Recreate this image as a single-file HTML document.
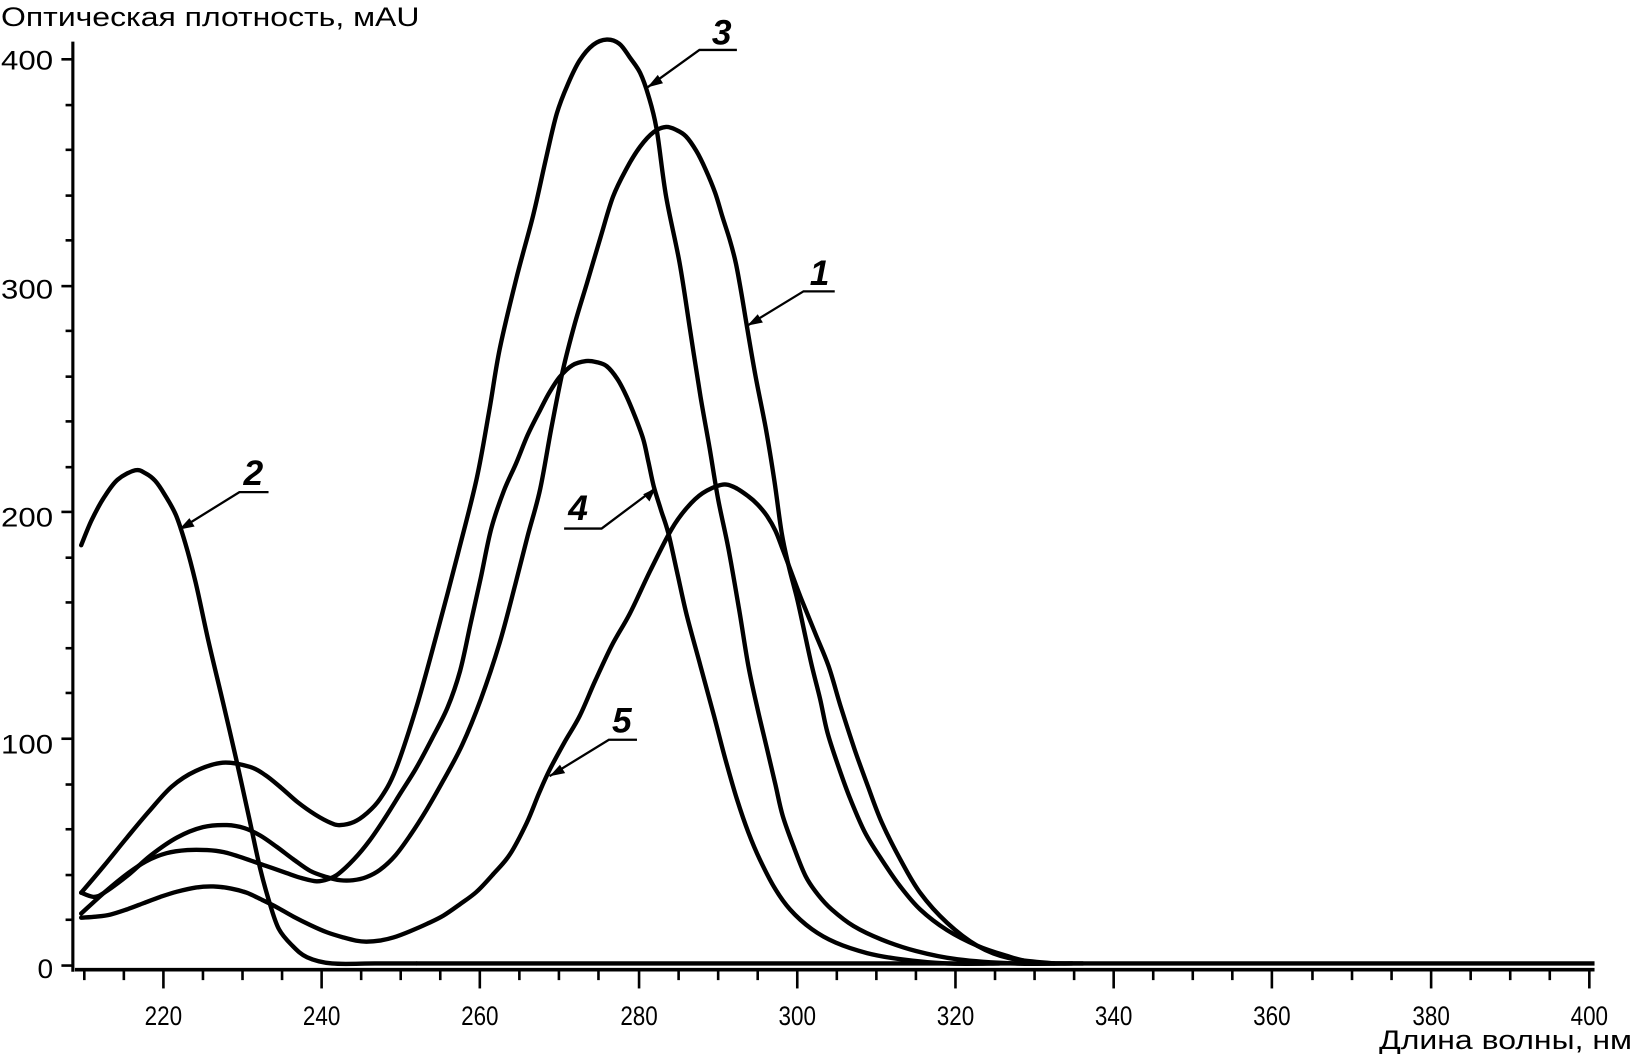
<!DOCTYPE html>
<html><head><meta charset="utf-8"><style>
html,body{margin:0;padding:0;background:#fff;}
svg{display:block;}
text{font-family:"Liberation Sans",Arial,sans-serif;fill:#000;}
</style></head><body>
<svg id="s" width="1632" height="1054" viewBox="0 0 1568 1013" preserveAspectRatio="none" xmlns="http://www.w3.org/2000/svg">
<rect width="1568" height="1013" fill="#fff"/>
<text x="1" y="25" font-size="26" textLength="402" lengthAdjust="spacingAndGlyphs">Оптическая плотность, мАU</text>
<!-- y axis -->
<line x1="70" y1="40" x2="70" y2="934" stroke="#000" stroke-width="3"/>
<g stroke="#000" stroke-width="2.5">
<line x1="59" y1="57" x2="70" y2="57"/><line x1="59" y1="275" x2="70" y2="275"/><line x1="59" y1="492" x2="70" y2="492"/><line x1="59" y1="710" x2="70" y2="710"/><line x1="59" y1="928" x2="70" y2="928"/>
<line x1="63" y1="101" x2="70" y2="101"/><line x1="63" y1="144" x2="70" y2="144"/><line x1="63" y1="188" x2="70" y2="188"/><line x1="63" y1="231" x2="70" y2="231"/>
<line x1="63" y1="318" x2="70" y2="318"/><line x1="63" y1="362" x2="70" y2="362"/><line x1="63" y1="405" x2="70" y2="405"/><line x1="63" y1="449" x2="70" y2="449"/>
<line x1="63" y1="536" x2="70" y2="536"/><line x1="63" y1="579" x2="70" y2="579"/><line x1="63" y1="623" x2="70" y2="623"/><line x1="63" y1="666" x2="70" y2="666"/>
<line x1="63" y1="754" x2="70" y2="754"/><line x1="63" y1="797" x2="70" y2="797"/><line x1="63" y1="841" x2="70" y2="841"/><line x1="63" y1="884" x2="70" y2="884"/>
</g>
<g font-size="26">
<text x="1" y="67" textLength="50" lengthAdjust="spacingAndGlyphs">400</text>
<text x="1" y="287" textLength="50" lengthAdjust="spacingAndGlyphs">300</text>
<text x="1" y="506" textLength="50" lengthAdjust="spacingAndGlyphs">200</text>
<text x="1" y="724" textLength="50" lengthAdjust="spacingAndGlyphs">100</text>
<text x="36" y="940" textLength="15" lengthAdjust="spacingAndGlyphs">0</text>
</g>
<!-- x axis -->
<line x1="72" y1="932" x2="1532" y2="932" stroke="#000" stroke-width="3.5"/>
<g stroke="#000" stroke-width="2.5">
<line x1="81" y1="932" x2="81" y2="942"/><line x1="119" y1="932" x2="119" y2="942"/><line x1="157" y1="932" x2="157" y2="950"/><line x1="195" y1="932" x2="195" y2="942"/>
<line x1="233" y1="932" x2="233" y2="942"/><line x1="271" y1="932" x2="271" y2="942"/><line x1="309" y1="932" x2="309" y2="950"/><line x1="347" y1="932" x2="347" y2="942"/>
<line x1="385" y1="932" x2="385" y2="942"/><line x1="423" y1="932" x2="423" y2="942"/><line x1="461" y1="932" x2="461" y2="950"/><line x1="499" y1="932" x2="499" y2="942"/>
<line x1="537" y1="932" x2="537" y2="942"/><line x1="575" y1="932" x2="575" y2="942"/><line x1="614" y1="932" x2="614" y2="950"/><line x1="652" y1="932" x2="652" y2="942"/>
<line x1="690" y1="932" x2="690" y2="942"/><line x1="728" y1="932" x2="728" y2="942"/><line x1="766" y1="932" x2="766" y2="950"/><line x1="804" y1="932" x2="804" y2="942"/>
<line x1="842" y1="932" x2="842" y2="942"/><line x1="880" y1="932" x2="880" y2="942"/><line x1="918" y1="932" x2="918" y2="950"/><line x1="956" y1="932" x2="956" y2="942"/>
<line x1="994" y1="932" x2="994" y2="942"/><line x1="1032" y1="932" x2="1032" y2="942"/><line x1="1070" y1="932" x2="1070" y2="950"/><line x1="1108" y1="932" x2="1108" y2="942"/>
<line x1="1146" y1="932" x2="1146" y2="942"/><line x1="1184" y1="932" x2="1184" y2="942"/><line x1="1222" y1="932" x2="1222" y2="950"/><line x1="1261" y1="932" x2="1261" y2="942"/>
<line x1="1299" y1="932" x2="1299" y2="942"/><line x1="1337" y1="932" x2="1337" y2="942"/><line x1="1375" y1="932" x2="1375" y2="950"/><line x1="1413" y1="932" x2="1413" y2="942"/>
<line x1="1451" y1="932" x2="1451" y2="942"/><line x1="1489" y1="932" x2="1489" y2="942"/><line x1="1527" y1="932" x2="1527" y2="950"/>
</g>
<g font-size="26">
<text x="139" y="985" textLength="36" lengthAdjust="spacingAndGlyphs">220</text>
<text x="291" y="985" textLength="36" lengthAdjust="spacingAndGlyphs">240</text>
<text x="443" y="985" textLength="36" lengthAdjust="spacingAndGlyphs">260</text>
<text x="596" y="985" textLength="36" lengthAdjust="spacingAndGlyphs">280</text>
<text x="748" y="985" textLength="36" lengthAdjust="spacingAndGlyphs">300</text>
<text x="900" y="985" textLength="36" lengthAdjust="spacingAndGlyphs">320</text>
<text x="1052" y="985" textLength="36" lengthAdjust="spacingAndGlyphs">340</text>
<text x="1204" y="985" textLength="36" lengthAdjust="spacingAndGlyphs">360</text>
<text x="1357" y="985" textLength="36" lengthAdjust="spacingAndGlyphs">380</text>
<text x="1509" y="985" textLength="36" lengthAdjust="spacingAndGlyphs">400</text>
</g>
<text x="1325" y="1008" font-size="26" textLength="243" lengthAdjust="spacingAndGlyphs">Длина волны, нм</text>
<line x1="400" y1="926" x2="1532" y2="926" stroke="#000" stroke-width="4.2"/>
<!-- curves -->
<g id="curves" fill="none" stroke="#000" stroke-width="4.2" stroke-linejoin="round" stroke-linecap="round">
<!-- 2 -->
<polyline points="78,524 88,500 100,478 113,461 130,452 140,455 149,462 158,475 169,495 178,522 188,560 200,615 214,674 227,730 240,789 250,835 260,871 268,893 280,908 295,920 319,926 360,926 400,926"/>
<!-- 3 -->
<polyline points="78,858 100,832 122,805 143,780 165,756 188,741 214,733 240,737 255,745 270,757 286,771 303,783 318,791 327,793 340,790 352,782 365,768 380,740 400,680 420,608 440,532 458,460 470,395 480,336 496,268 512,208 524,155 535,109 546,80 557,58 570,43 583,38 595,42 605,55 615,70 623,92 631,125 640,189 653,253 663,317 673,381 682,432 690,480 700,528 710,585 719,640 728,682 737,720 745,754 752,784 763,815 774,842 786,860 799,874 820,890 847,903 880,914 920,922 975,926 1030,926"/>
<!-- 1 -->
<polyline points="78,858 90,862 100,858 122,842 145,822 170,805 195,795 218,793 235,796 250,803 266,814 282,826 298,837 314,843 327,846 339,846 352,843 365,836 380,822 394,803 410,778 426,750 444,716 462,672 480,618 495,562 507,515 519,470 530,410 541,355 552,312 564,272 577,228 589,189 602,162 615,141 628,127 640,122 650,125 659,131 669,145 678,163 687,185 694,208 701,230 707,253 712,280 717,310 726,362 736,413 744,462 751,512 758,545 766,576 773,608 780,640 788,672 795,704 806,738 817,768 831,800 847,826 865,852 884,874 910,894 939,909 965,918 994,925 1040,926"/>
<!-- 4 -->
<polyline points="78,878 100,858 122,840 140,828 160,820 180,817 199,817 215,819 235,825 255,832 275,839 290,844 304,847 315,845 325,840 340,826 355,808 370,786 385,762 400,738 415,710 430,680 442,645 452,600 462,555 472,508 484,472 496,445 507,418 519,394 528,377 538,362 550,351 563,347 573,348 583,352 593,364 602,381 610,400 618,422 623,444 628,467 635,490 642,512 651,552 660,592 673,640 686,688 697,730 708,768 719,800 730,826 744,853 759,874 780,893 803,906 833,916 866,922 910,926 960,926"/>
<!-- 5 -->
<polyline points="78,882 92,881 106,879 122,874 138,868 154,862 170,857 188,853 205,852 222,854 237,858 252,865 266,872 282,881 298,889 314,896 330,901 342,904 352,905 365,904 378,901 394,895 410,888 426,880 442,869 458,857 474,840 490,821 506,791 518,762 528,740 542,714 557,688 572,654 588,620 605,590 625,548 645,509 660,488 675,474 693,466 705,468 719,477 728,485 737,496 745,510 752,528 761,552 770,576 783,608 796,640 808,680 821,720 834,756 847,790 865,826 884,858 910,887 939,909 970,921 1013,926"/>
</g>
<!-- annotations -->
<g stroke="#000" stroke-width="2.2" fill="none">
<polyline points="708,48 672,48 622,84"/>
<polyline points="802,280 772,280 718,313"/>
<polyline points="258,473 230,473 172,509"/>
<polyline points="542,508 578,508 630,469"/>
<polyline points="612,711 585,711 528,746"/>
</g>
<g fill="#000">
<polygon points="622,84 632,72 637,80"/>
<polygon points="718,313 728,302 733,310"/>
<polygon points="172,509 182,498 187,506"/>
<polygon points="630,469 624,482 618,475"/>
<polygon points="528,746 538,735 543,743"/>
</g>
<g font-size="34" font-style="italic" font-weight="bold">
<text x="684" y="43">3</text>
<text x="778" y="274">1</text>
<text x="234" y="466">2</text>
<text x="546" y="500">4</text>
<text x="588" y="704">5</text>
</g>
</svg>
<script>
(function(){
  var g=document.getElementById('curves');
  var pls=g.querySelectorAll('polyline');
  for(var i=0;i<pls.length;i++){
    var pl=pls[i];
    var pts=pl.getAttribute('points').trim().split(/\s+/).map(function(s){var a=s.split(',');return [+a[0],+a[1]];});
    var d='M'+pts[0][0]+','+pts[0][1];
    for(var k=0;k<pts.length-1;k++){
      var p0=pts[k>0?k-1:0],p1=pts[k],p2=pts[k+1],p3=pts[k+2<pts.length?k+2:k+1];
      var c1x=p1[0]+(p2[0]-p0[0])/6,c1y=p1[1]+(p2[1]-p0[1])/6;
      var c2x=p2[0]-(p3[0]-p1[0])/6,c2y=p2[1]-(p3[1]-p1[1])/6;
      d+=' C'+c1x.toFixed(1)+','+c1y.toFixed(1)+' '+c2x.toFixed(1)+','+c2y.toFixed(1)+' '+p2[0]+','+p2[1];
    }
    var p=document.createElementNS('http://www.w3.org/2000/svg','path');
    p.setAttribute('d',d);
    g.replaceChild(p,pl);
  }
})();
</script>
</body></html>
